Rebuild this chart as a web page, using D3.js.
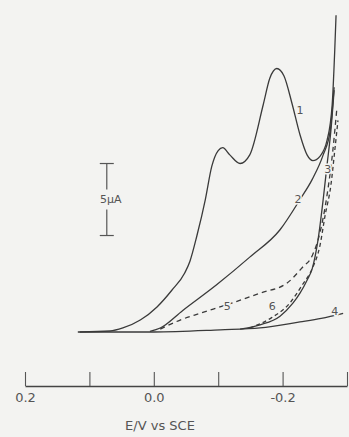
<!DOCTYPE html>
<html>
<head>
<meta charset="utf-8">
<script src="https://cdn.jsdelivr.net/npm/d3@7"></script>
<style>
  html, body { margin: 0; padding: 0; background: #f3f3f1; }
  svg { display: block; }
</style>
</head>
<body>
<div id="chart"></div>
<script>
var svgWidth = 349;
var svgHeight = 437;

// Potential (V vs SCE) and current (uA)
var curve1E = [0.115, 0.068, 0.048, 0.021, -0.005, -0.028, -0.048, -0.056, -0.067, -0.080, -0.090, -0.100, -0.107, -0.118, -0.134, -0.149, -0.170, -0.180, -0.191, -0.202, -0.215, -0.227, -0.238, -0.247, -0.258, -0.269, -0.277, -0.281, -0.283];
var curve1I = [0, 0.07, 0.28, 0.83, 1.74, 2.9, 4.1, 4.9, 6.7, 9.2, 11.5, 12.6, 12.8, 12.3, 11.7, 12.3, 15.8, 17.6, 18.3, 17.8, 15.8, 13.7, 12.3, 11.9, 12.2, 13.3, 15.8, 19.6, 22.0];

var curve2E = [0.006, -0.010, -0.045, -0.098, -0.149, -0.196, -0.227, -0.246, -0.263, -0.274, -0.280];
var curve2I = [0.05, 0.28, 1.5, 3.3, 5.2, 7.1, 9.2, 10.6, 12.3, 14.0, 17.0];

var curve3E = [-0.134, -0.165, -0.196, -0.216, -0.227, -0.238, -0.246, -0.255, -0.263, -0.269, -0.275, -0.280];
var curve3I = [0.2, 0.5, 1.1, 2.0, 2.7, 3.6, 4.4, 6.4, 9.2, 11.6, 14.0, 16.8];

var curve4E = [0.118, 0.060, 0.000, -0.103, -0.165, -0.227, -0.260, -0.294];
var curve4I = [0, 0, 0, 0.15, 0.28, 0.7, 0.95, 1.3];

var curve5E = [-0.010, -0.041, -0.072, -0.114, -0.165, -0.207, -0.231, -0.246, -0.258, -0.269, -0.278, -0.284];
var curve5I = [0.2, 0.83, 1.3, 1.9, 2.7, 3.4, 4.5, 5.3, 6.9, 9.5, 12.6, 15.4];

var curve6E = [-0.149, -0.183, -0.211, -0.231, -0.246, -0.258, -0.266, -0.275, -0.281, -0.286];
var curve6I = [0.28, 1.0, 2.0, 3.3, 4.4, 6.0, 8.1, 10.2, 12.6, 14.7];

// curve labels
var labelText = ["1", "2", "3", "4", "5", "6"];
var labelE = [-0.227, -0.224, -0.270, -0.281, -0.114, -0.184];
var labelI = [15.4, 9.2, 11.3, 1.45, 1.74, 1.74];

var tickValues = [0.2, 0.1, 0.0, -0.1, -0.2, -0.3];
var tickLabels = ["0.2", "", "0.0", "", "-0.2", ""];

var scaleBarE = 0.073;
var scaleBarI = [6.7, 11.7];

function zip(es, is) {
  return es.map(function(e, i) { return { e: e, i: is[i] }; });
}

var curves = [
  { id: 1, pts: zip(curve1E, curve1I), dash: null },
  { id: 2, pts: zip(curve2E, curve2I), dash: null },
  { id: 3, pts: zip(curve3E, curve3I), dash: null },
  { id: 4, pts: zip(curve4E, curve4I), dash: null },
  { id: 5, pts: zip(curve5E, curve5I), dash: "5,4" },
  { id: 6, pts: zip(curve6E, curve6I), dash: "4,3" }
];

var svg = d3.select("#chart")
  .append("svg")
  .attr("width", svgWidth)
  .attr("height", svgHeight);

svg.append("rect")
  .attr("width", svgWidth)
  .attr("height", svgHeight)
  .attr("fill", "#f3f3f1");

// scales
var xScale = d3.scaleLinear()
  .domain([0.2, -0.3])
  .range([25, 347]);

var yScale = d3.scaleLinear()
  .domain([0, 20])
  .range([332, 44]);

var line = d3.line()
  .x(d => xScale(d.e))
  .y(d => yScale(d.i))
  .curve(d3.curveMonotoneX);

var ink = "#3a3a3a";

svg.selectAll(".trace")
  .data(curves)
  .enter()
  .append("path")
  .attr("class", "trace")
  .attr("d", d => line(d.pts))
  .attr("fill", "none")
  .attr("stroke", ink)
  .attr("stroke-width", 1.3)
  .attr("stroke-dasharray", d => d.dash);

// curve numbers, with a halo so they break the lines like the original
svg.selectAll(".tag")
  .data(labelText)
  .enter()
  .append("text")
  .attr("class", "tag")
  .attr("x", (d, i) => xScale(labelE[i]))
  .attr("y", (d, i) => yScale(labelI[i]))
  .attr("text-anchor", "middle")
  .attr("dominant-baseline", "central")
  .attr("font-family", "DejaVu Sans, sans-serif")
  .attr("font-size", "11px")
  .attr("fill", "#555")
  .attr("stroke", "#f3f3f1")
  .attr("stroke-width", 3)
  .attr("paint-order", "stroke")
  .text(d => d);

// 5 uA scale bar
var barX = xScale(scaleBarE);
var barTop = yScale(scaleBarI[1]);
var barBot = yScale(scaleBarI[0]);
var barMid = (barTop + barBot) / 2;

var bar = svg.append("g")
  .attr("stroke", "#555")
  .attr("stroke-width", 1.2);

bar.append("line")
  .attr("x1", barX).attr("x2", barX)
  .attr("y1", barTop).attr("y2", barMid - 10);
bar.append("line")
  .attr("x1", barX).attr("x2", barX)
  .attr("y1", barMid + 10).attr("y2", barBot);
bar.append("line")
  .attr("x1", barX - 7).attr("x2", barX + 7)
  .attr("y1", barTop).attr("y2", barTop);
bar.append("line")
  .attr("x1", barX - 7).attr("x2", barX + 7)
  .attr("y1", barBot).attr("y2", barBot);

svg.append("text")
  .attr("x", barX + 4)
  .attr("y", barMid)
  .attr("text-anchor", "middle")
  .attr("dominant-baseline", "central")
  .attr("font-family", "DejaVu Sans, sans-serif")
  .attr("font-size", "11px")
  .attr("fill", "#555")
  .text("5\u03bcA");

// potential axis, ticks pointing up
var bottomAxis = d3.axisBottom(xScale)
  .tickValues(tickValues)
  .tickFormat((d, i) => tickLabels[i])
  .tickSize(-14)
  .tickSizeOuter(0)
  .tickPadding(7);

var xAxis = svg.append("g")
  .attr("transform", "translate(0, 386)")
  .call(bottomAxis);

xAxis.select(".domain")
  .attr("stroke", "#444")
  .attr("stroke-width", 1.3);

xAxis.selectAll(".tick line")
  .attr("stroke", "#555")
  .attr("stroke-width", 1.1);

xAxis.selectAll(".tick text")
  .attr("font-family", "DejaVu Sans, sans-serif")
  .attr("font-size", "13px")
  .attr("fill", "#555");

svg.append("text")
  .attr("x", 160)
  .attr("y", 430)
  .attr("text-anchor", "middle")
  .attr("font-family", "DejaVu Sans, sans-serif")
  .attr("font-size", "13px")
  .attr("fill", "#555")
  .text("E/V vs SCE");
</script>
</body>
</html>
